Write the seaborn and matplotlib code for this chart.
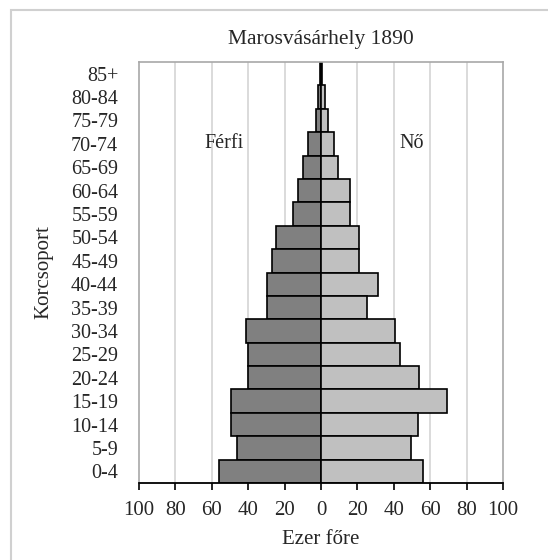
import numpy as np
import pandas as pd
import matplotlib
matplotlib.use("Agg")
import matplotlib.pyplot as plt
import seaborn as sns
from matplotlib.patches import Rectangle

# age groups, top to bottom
ages = ['85+', '80-84', '75-79', '70-74', '65-69', '60-64', '55-59', '50-54',
        '45-49', '40-44', '35-39', '30-34', '25-29', '20-24', '15-19',
        '10-14', '5-9', '0-4']
# thousands per group
male = [0.7, 1.5, 2.8, 7.0, 9.7, 12.7, 15.4, 24.9, 26.8, 29.5, 29.5,
        41.1, 40.0, 40.0, 49.5, 49.5, 45.9, 56.3]
female = [0.7, 2.0, 3.9, 7.3, 9.4, 16.0, 16.0, 20.7, 20.7, 31.4, 25.5,
          40.7, 43.6, 54.1, 69.5, 53.2, 49.3, 55.9]
xticks = [-100, -80, -60, -40, -20, 0, 20, 40, 60, 80, 100]

df = pd.DataFrame({'age': ages, 'male': -np.array(male), 'female': female})

sns.set_style('white')
plt.rcParams['font.family'] = ['Liberation Serif', 'DejaVu Serif']

fig = plt.figure(figsize=(5.48, 5.60), dpi=100)
ax = fig.add_axes([139 / 548, 1 - 483 / 560, 364 / 548, 421 / 560])

for x in xticks[1:-1]:
    ax.axvline(x, color='#d4d4d4', lw=1.2, zorder=0)

sns.barplot(data=df, x='male', y='age', order=ages, orient='h', width=1.0,
            color='#808080', edgecolor='black', linewidth=1.2, saturation=1,
            ax=ax, zorder=2)
sns.barplot(data=df, x='female', y='age', order=ages, orient='h', width=1.0,
            color='#c0c0c0', edgecolor='black', linewidth=1.2, saturation=1,
            ax=ax, zorder=2)

ax.set_xlim(-100, 100)
ax.set_ylim(17.5, -0.5)
ax.set_xticks(xticks)
ax.set_xticklabels([str(abs(v)) for v in xticks], fontsize=15)
ax.tick_params(axis='x', direction='out', length=5, width=1.2, color='black',
               bottom=True, pad=8)
ax.tick_params(axis='y', length=0, labelsize=14.5, pad=15)
ax.set_ylabel('Korcsoport', fontsize=15, labelpad=13)
ax.set_xlabel('Ezer főre', fontsize=15, labelpad=7)
ax.set_title('Marosvásárhely 1890', fontsize=15.5, pad=13)

for side in ['left', 'right', 'top']:
    ax.spines[side].set_color('#a8a8a8')
    ax.spines[side].set_linewidth(1.2)
ax.spines['bottom'].set_color('black')
ax.spines['bottom'].set_linewidth(1.3)

ax.text(-53, 3, 'Férfi', fontsize=14.5, ha='center', va='center')
ax.text(50, 3, 'Nő', fontsize=14.5, ha='center', va='center')

fig.patches.append(Rectangle((11 / 548, -0.1), 1.2, 1.1 - 10 / 560,
                             transform=fig.transFigure, fill=False,
                             edgecolor='#d0d0d0', lw=1.5))

fig.savefig('out.png', dpi=100)
